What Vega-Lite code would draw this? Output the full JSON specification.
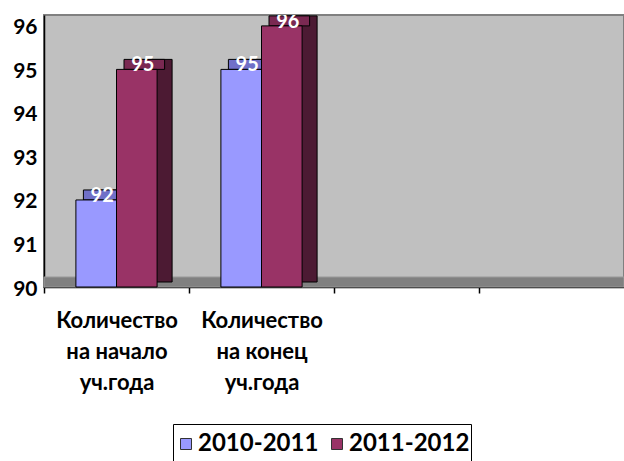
{
  "$schema": "https://vega.github.io/schema/vega-lite/v6.json",
  "autosize": "none",
  "width": 580,
  "height": 272,
  "padding": {"left": 44, "top": 15, "right": 0, "bottom": 174},
  "background": "white",
  "config": {
    "view": {"fill": "#C0C0C0", "stroke": "#808080", "strokeWidth": 2},
    "font": "Lato"
  },
  "data": {
    "values": [
      {"cat": "A", "series": "2010-2011", "value": 92},
      {"cat": "A", "series": "2011-2012", "value": 95},
      {"cat": "B", "series": "2010-2011", "value": 95},
      {"cat": "B", "series": "2011-2012", "value": 96}
    ]
  },
  "resolve": {"scale": {"xOffset": "independent", "fill": "independent"}},
  "layer": [
    {
      "data": {"values": [{}]},
      "mark": {"type": "rect", "fill": "#808080", "stroke": "#999999", "strokeWidth": 1, "yOffset": -10},
      "encoding": {
        "y": {"datum": 90, "type": "quantitative", "scale": {"domain": [90, 96.25], "zero": false, "nice": false},
          "axis": {
            "title": null, "values": [90, 91, 92, 93, 94, 95, 96],
            "labelFont": "Lato", "labelFontWeight": "bold", "labelFontSize": 21, "labelColor": "black",
            "domainColor": "black", "domainWidth": 1.5, "ticks": false, "labelPadding": 7,
            "tickOffset": -10, "labelOffset": 12,
            "gridColor": {"condition": {"test": "datum.value == 96", "value": "#808080"}, "value": "black"},
            "gridOpacity": 1, "gridWidth": {"condition": {"test": "datum.value == 96", "value": 2}, "value": 1.3}
          }
        },
        "y2": {"datum": 90}
      }
    },
    {
      "mark": {"type": "bar", "stroke": "black", "strokeWidth": 1, "yOffset": -10, "y2Offset": -5},
      "encoding": {
        "x": {"field": "cat", "type": "nominal"},
        "xOffset": {"field": "series", "type": "nominal", "scale": {"paddingInner": 0, "paddingOuter": 0, "range": [15, 96.2]}},
        "y": {"field": "value", "type": "quantitative"},
        "y2": {"datum": 90},
        "fill": {"field": "series", "type": "nominal", "scale": {"domain": ["2010-2011", "2011-2012"], "range": ["#4D4D80", "#4C1A33"]}, "legend": null}
      }
    },
    {
      "mark": {"type": "bar", "stroke": "black", "strokeWidth": 1, "yOffset": -10, "y2Offset": 0},
      "encoding": {
        "x": {"field": "cat", "type": "nominal"},
        "xOffset": {"field": "series", "type": "nominal", "scale": {"paddingInner": 0, "paddingOuter": 0, "range": [7.5, 88.7]}},
        "y": {"field": "value", "type": "quantitative"},
        "y2": {"field": "value"},
        "fill": {"field": "series", "type": "nominal", "scale": {"domain": ["2010-2011", "2011-2012"], "range": ["#7070C8", "#7A2952"]}, "legend": null}
      }
    },
    {
      "mark": {"type": "bar", "stroke": "black", "strokeWidth": 1},
      "encoding": {
        "x": {
          "field": "cat", "type": "nominal",
          "scale": {"domain": ["A", "B", "C", "D"], "paddingInner": 0.44, "paddingOuter": 0.22},
          "axis": {
            "title": null, "labelAngle": 0, "labelAlign": "center", "labelBaseline": "top",
            "tickOffset": -72.5, "labelOffset": 72.5,
            "labelExpr": "datum.value == 'A' ? ['Количество', 'на начало', 'уч.года'] : datum.value == 'B' ? ['Количество', 'на конец', 'уч.года'] : ''",
            "labelFont": "Lato", "labelFontWeight": "bold", "labelFontSize": 22, "labelColor": "black",
            "labelLineHeight": 31, "labelPadding": 17, "labelOverlap": false,
            "domainColor": "black", "domainWidth": 1.5, "tickColor": "black", "tickSize": 6, "tickWidth": 1.5
          }
        },
        "xOffset": {"field": "series", "type": "nominal", "scale": {"paddingInner": 0, "paddingOuter": 0}},
        "y": {"field": "value", "type": "quantitative"},
        "y2": {"datum": 90},
        "color": {
          "field": "series", "type": "nominal",
          "scale": {"domain": ["2010-2011", "2011-2012"], "range": ["#9999FF", "#993366"]},
          "legend": {
            "title": null, "orient": "none", "legendX": 129, "legendY": 409,
            "direction": "horizontal", "symbolType": "square", "symbolSize": 121,
            "symbolStrokeColor": "#333333", "symbolStrokeWidth": 1,
            "labelFont": "Lato", "labelFontWeight": "bold", "labelFontSize": 24, "labelColor": "black",
            "labelOffset": 0, "strokeColor": "black", "padding": 1, "clipHeight": 38, "columnPadding": 6
          }
        }
      }
    },
    {
      "mark": {"type": "text", "color": "white", "font": "Lato", "fontWeight": "bold", "fontSize": 20, "baseline": "alphabetic", "dy": 2, "dx": 6, "clip": true},
      "encoding": {
        "x": {"field": "cat", "type": "nominal"},
        "xOffset": {"field": "series", "type": "nominal", "scale": {"type": "point", "padding": 0.5}},
        "y": {"field": "value", "type": "quantitative"},
        "text": {"field": "value", "type": "quantitative"}
      }
    }
  ]
}
